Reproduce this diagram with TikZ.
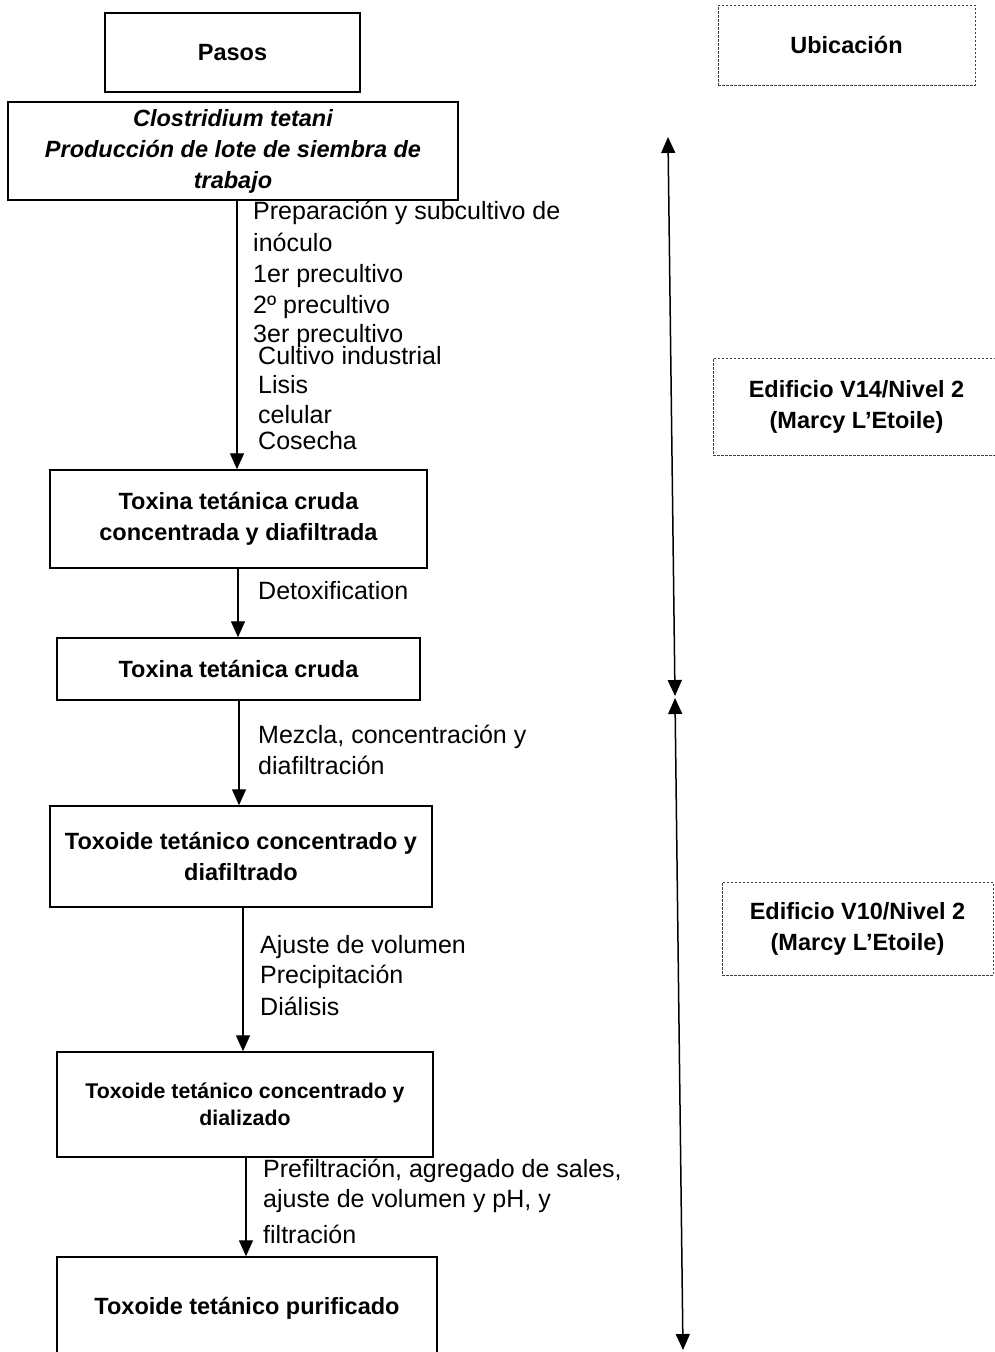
\documentclass[tikz,border=0pt]{standalone}
\usepackage{fontspec}
\setmainfont{Liberation Sans}
\usetikzlibrary{arrows.meta}
\begin{document}
\begin{tikzpicture}[x=1pt,y=-1pt,
  stepbox/.style={draw,line width=1.4pt,align=center,inner sep=0pt,
    font=\fontsize{23.5}{31}\selectfont\bfseries},
  placebox/.style={draw=black!75,line width=1pt,dash pattern=on 2.5pt off 1.5pt,
    align=center,inner sep=0pt,font=\fontsize{23.5}{31}\selectfont\bfseries},
  note/.style={anchor=base west,inner sep=0pt,font=\fontsize{25}{31}\selectfont},
  flow/.style={line width=1.3pt,-{Triangle[width=14pt,length=16pt]}},
  span/.style={line width=1.5pt,{Triangle[width=14pt,length=16pt]}-{Triangle[width=14pt,length=16pt]}}]
\useasboundingbox (0,0) rectangle (995,1352);

% column headers
\node[stepbox,minimum width=255pt,minimum height=79pt] (pasos) at (232.5,52.5) {Pasos};
\node[placebox,minimum width=257pt,minimum height=80pt] (ubic) at (846.5,45) {Ubicación};

% process steps
\node[stepbox,minimum width=450pt,minimum height=98pt] (s1) at (233,151)
  {\itshape Clostridium tetani\\\itshape Producción de lote de siembra de\\\itshape trabajo};
\node[stepbox,minimum width=377pt,minimum height=98pt] (s2) at (238.5,519)
  {Toxina tetánica cruda\\concentrada y diafiltrada};
\node[stepbox,minimum width=363pt,minimum height=62pt] (s3) at (238.5,669)
  {Toxina tetánica cruda};
\node[stepbox,minimum width=382pt,minimum height=101pt] (s4) at (241,856.5)
  {Toxoide tetánico concentrado y\\diafiltrado};
\node[stepbox,minimum width=376pt,minimum height=105pt,
  font=\fontsize{21.3}{27}\selectfont\bfseries] (s5) at (245,1104.5)
  {Toxoide tetánico concentrado y\\dializado};
\node[stepbox,minimum width=380pt,minimum height=103pt] (s6) at (247,1308.5)
  {Toxoide tetánico purificado};

% flow arrows
\draw[flow] (s1.south -| 237,0) -- (s2.north -| 237,0);
\draw[flow] (s2.south -| 238,0) -- (s3.north -| 238,0);
\draw[flow] (s3.south -| 239,0) -- (s4.north -| 239,0);
\draw[flow] (s4.south -| 243,0) -- (s5.north -| 243,0);
\draw[flow] (s5.south -| 246,0) -- (s6.north -| 246,0);

% operations beside the arrows
\node[note] (n1a) at (253,219) {Preparación y subcultivo de};
\node[note] (n1b) at (253,251) {inóculo};
\node[note] (n1c) at (253,282) {1er precultivo};
\node[note] (n1d) at (253,313) {2º precultivo};
\node[note] (n1e) at (253,342) {3er precultivo};
\node[note] (n1f) at (258,364) {Cultivo industrial};
\node[note] (n1g) at (258,393) {Lisis};
\node[note] (n1h) at (258,423) {celular};
\node[note] (n1i) at (258,449) {Cosecha};

\node[note] (n2) at (258,599) {Detoxification};

\node[note] (n3a) at (258,743) {Mezcla, concentración y};
\node[note] (n3b) at (258,774) {diafiltración};

\node[note] (n4a) at (260,953) {Ajuste de volumen};
\node[note] (n4b) at (260,983) {Precipitación};
\node[note] (n4c) at (260,1015) {Diálisis};

\node[note] (n5a) at (263,1177) {Prefiltración, agregado de sales,};
\node[note] (n5b) at (263,1207) {ajuste de volumen y pH, y};
\node[note] (n5c) at (263,1243) {filtración};

% locations
\node[placebox,minimum width=287pt,minimum height=97pt] (v14) at (856.5,406.5)
  {Edificio V14/Nivel 2\\(Marcy L’Etoile)};
\node[placebox,minimum width=271pt,minimum height=93pt] (v10) at (857.5,928.5)
  {Edificio V10/Nivel 2\\(Marcy L’Etoile)};

% extent of each location
\coordinate (top) at (668,137);
\coordinate (midA) at (675,696);
\coordinate (midB) at (675,698);
\coordinate (bot) at (683,1350);
\draw[span] (top) -- (midA);
\draw[span] (midB) -- (bot);
\end{tikzpicture}
\end{document}
